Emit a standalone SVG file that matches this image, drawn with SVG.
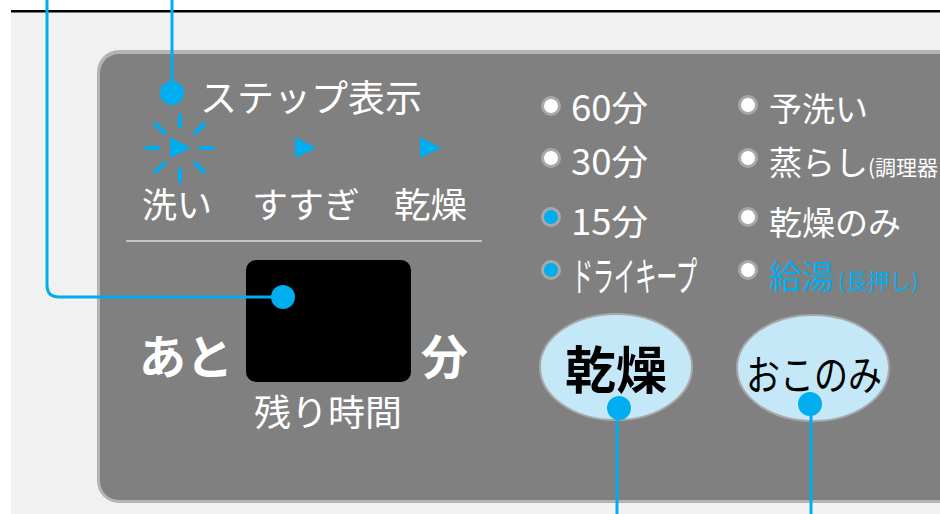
<svg xmlns="http://www.w3.org/2000/svg" width="940" height="514" viewBox="0 0 940 514">
<style>
text{font-family:"Noto Sans CJK JP","Noto Sans",sans-serif;}
.w{fill:#ffffff;font-size:35px;}
.m{fill:#ffffff;font-size:33px;}
.n{fill:#ffffff;font-size:35px;}
.s{font-size:21px;}
.b{fill:#00aeef;}
.conn{stroke:#00aeef;stroke-width:3;fill:none;}
.dot{fill:#00aeef;}
.led{stroke:#a8a8a8;stroke-width:3;}
.btn{fill:#c5e8f8;stroke:#a8a8a8;stroke-width:2;}
.ray{stroke:#00aeef;stroke-width:4;}
</style>
<rect x="0" y="0" width="940" height="514" fill="#ffffff"/>
<rect x="11" y="12" width="929" height="502" fill="#f1f1f1"/>
<rect x="11" y="10" width="929" height="2.5" fill="#000000"/>
<g id="panel">
<rect x="97" y="50" width="900" height="453" rx="22" fill="#b4b4b4"/>
<rect x="100" y="54" width="900" height="446" rx="19" fill="#808080"/>
</g>
<g id="step-display">
<text class="w" x="200" y="112" textLength="222" lengthAdjust="spacingAndGlyphs" style="font-size:37px">ステップ表示</text>
<g id="blink">
<line class="ray" x1="180" y1="114" x2="180" y2="128"/>
<line class="ray" x1="180" y1="168" x2="180" y2="183"/>
<line class="ray" x1="145" y1="148" x2="160" y2="148"/>
<line class="ray" x1="199" y1="148" x2="214" y2="148"/>
<line class="ray" x1="154" y1="123" x2="166" y2="134"/>
<line class="ray" x1="194" y1="134" x2="205" y2="123"/>
<line class="ray" x1="154" y1="173" x2="166" y2="162"/>
<line class="ray" x1="194" y1="162" x2="205" y2="173"/>
</g>
<polygon points="170,137 191,148 170,158" fill="#00aeef"/>
<polygon points="295,137 316,148 295,158" fill="#00aeef"/>
<polygon points="420,137 441,148 420,158" fill="#00aeef"/>
<text class="w" x="142" y="218">洗い</text>
<text class="w" x="252" y="218" textLength="108" lengthAdjust="spacingAndGlyphs">すすぎ</text>
<text class="w" x="394" y="218" textLength="73" lengthAdjust="spacingAndGlyphs">乾燥</text>
<line x1="126" y1="241" x2="482" y2="241" stroke="#dddddd" stroke-width="1.5"/>
</g>
<g id="time-display">
<rect x="246" y="260" width="165" height="122" rx="10" fill="#000000"/>
<text x="139" y="374" fill="#ffffff" font-size="47" font-weight="bold">あと</text>
<text x="421" y="374" fill="#ffffff" font-size="47" font-weight="bold">分</text>
<text class="w" x="254" y="426" style="font-size:36px" textLength="148" lengthAdjust="spacingAndGlyphs">残り時間</text>
</g>
<g id="options-left">
<circle class="led" cx="551" cy="106" r="8.5" fill="#ffffff"/>
<text class="n" x="571" y="121" textLength="77" lengthAdjust="spacingAndGlyphs">60分</text>
<circle class="led" cx="551" cy="158" r="8.5" fill="#ffffff"/>
<text class="n" x="571" y="175" textLength="77" lengthAdjust="spacingAndGlyphs">30分</text>
<circle class="led" cx="551" cy="217" r="8.5" fill="#00aeef"/>
<text class="n" x="571" y="235" textLength="77" lengthAdjust="spacingAndGlyphs">15分</text>
<circle class="led" cx="551" cy="270" r="8.5" fill="#00aeef"/>
<text class="m" x="572" y="291" style="font-size:40px" textLength="125" lengthAdjust="spacingAndGlyphs">ドライキープ</text>
</g>
<g id="options-right">
<circle class="led" cx="748" cy="105" r="8.5" fill="#ffffff"/>
<text class="m" x="769" y="121">予洗い</text>
<circle class="led" cx="748" cy="158" r="8.5" fill="#ffffff"/>
<text class="m" x="769" y="175">蒸らし</text>
<text class="m s" x="868" y="175">(調理器</text>
<circle class="led" cx="748" cy="217" r="8.5" fill="#ffffff"/>
<text class="m" x="769" y="235">乾燥のみ</text>
<circle class="led" cx="748" cy="270" r="8.5" fill="#ffffff"/>
<text class="m b" x="769" y="289" textLength="65" lengthAdjust="spacingAndGlyphs">給湯</text>
<text class="m b" x="838" y="289" style="font-size:22px">(長押し)</text>
</g>
<g id="btn-dry">
<ellipse class="btn" cx="616" cy="367" rx="76" ry="53"/>
<text x="616" y="389" fill="#000000" font-size="51" font-weight="bold" text-anchor="middle">乾燥</text>
</g>
<g id="btn-custom">
<ellipse class="btn" cx="813" cy="368" rx="76" ry="53"/>
<text x="814" y="390" fill="#000000" font-size="41" text-anchor="middle" textLength="136" lengthAdjust="spacingAndGlyphs">おこのみ</text>
</g>
<g id="connectors">
<path class="conn" d="M47,0 V285 Q47,297 59,297 H283"/>
<circle class="dot" cx="283" cy="297" r="12"/>
<path class="conn" d="M172,0 V93"/>
<circle class="dot" cx="172" cy="93" r="12"/>
<path class="conn" d="M617,408 V514"/>
<circle class="dot" cx="619" cy="408" r="12"/>
<path class="conn" d="M811,404 V514"/>
<circle class="dot" cx="810" cy="404" r="12"/>
</g>
</svg>
